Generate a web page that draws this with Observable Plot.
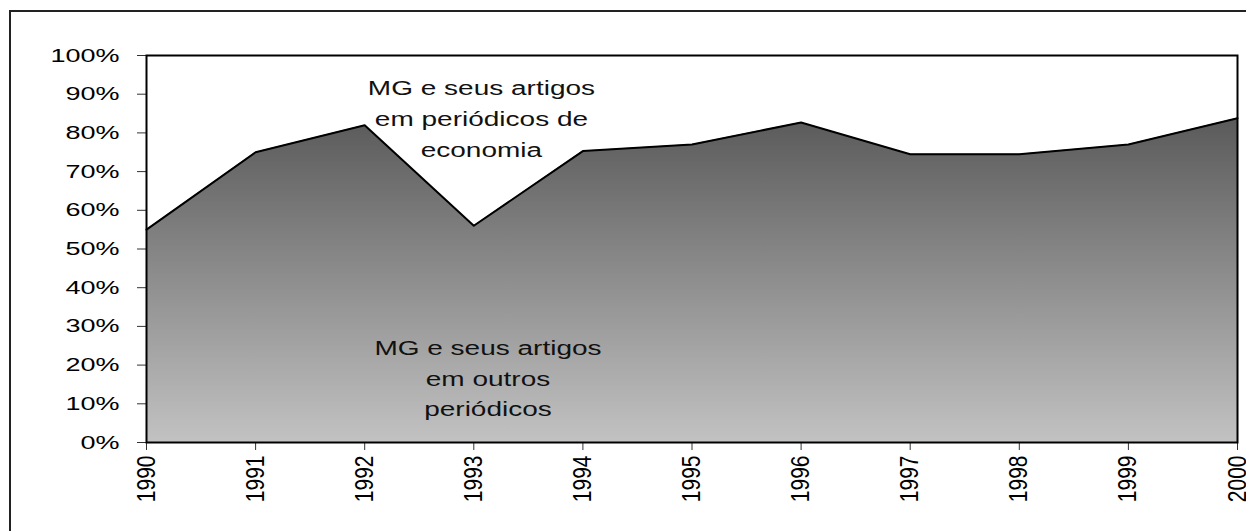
<!DOCTYPE html>
<html>
<head>
<meta charset="utf-8">
<script src="https://cdn.jsdelivr.net/npm/d3@7"></script>
<script src="https://cdn.jsdelivr.net/npm/@observablehq/plot@0.6"></script>
<style>
  html, body { margin: 0; padding: 0; background: #fff; overflow: hidden; }
  #wrap { position: relative; width: 1246px; height: 531px; }
  #border { position: absolute; left: 9px; top: 10px; width: 1260px; height: 600px; border: 2px solid #222; box-sizing: border-box; pointer-events: none; }
  #chart { position: absolute; left: 0; top: 0; }
</style>
</head>
<body>
<div id="wrap"><div id="chart"></div><div id="border"></div></div>
<script>
const years = [1990, 1991, 1992, 1993, 1994, 1995, 1996, 1997, 1998, 1999, 2000];
const shareEconomia = [0.55, 0.75, 0.82, 0.56, 0.753, 0.77, 0.827, 0.745, 0.745, 0.77, 0.838];

const labelTexts = ["MG e seus artigos\nem periódicos de\neconomia", "MG e seus artigos\nem outros\nperiódicos"];
const labelYears = [1993.07, 1993.13];
const labelValues = [0.843, 0.172];

const data = years.map((y, i) => ({year: y, value: shareEconomia[i]}));
const labels = labelTexts.map((t, i) => ({text: t, year: labelYears[i], value: labelValues[i]}));

const font = "Liberation Sans, Arial, sans-serif";

const chart = Plot.plot({
  width: 1246,
  height: 531,
  marginLeft: 146,
  marginRight: 9,
  marginTop: 55,
  marginBottom: 89,
  style: {fontFamily: font, fontSize: "20px", color: "#000", background: "transparent", overflow: "visible"},
  x: {domain: [1990, 2000], ticks: years, tickFormat: d3.format("d")},
  y: {domain: [0, 1], ticks: d3.range(0, 1.01, 0.1), tickFormat: d3.format(".0%")},
  marks: [
    Plot.areaY(data, {x: "year", y: "value", fill: "url(#areaGrad)"}),
    Plot.lineY(data, {x: "year", y: "value", stroke: "#000", strokeWidth: 2}),
    Plot.text(labels, {x: "year", y: "value", text: "text", lineHeight: 1.53, lineAnchor: "middle", textAnchor: "middle", fontSize: 20, fill: "#111", className: "annot"}),
    Plot.axisY({ticks: d3.range(0, 1.01, 0.1), tickFormat: d3.format(".0%"), tickSize: 9, tickPadding: 18, stroke: "#333", fill: "#000", label: null, className: "yax"}),
    Plot.axisX({ticks: years, tickFormat: d3.format("d"), tickSize: 8, tickPadding: 5, tickRotate: -90, stroke: "#333", fill: "#000", label: null, className: "xax"}),
    Plot.frame({stroke: "#000", strokeWidth: 2})
  ]
});

const svg = d3.select(chart);
const defs = svg.insert("defs", ":first-child");
const grad = defs.append("linearGradient").attr("id", "areaGrad").attr("x1", 0).attr("y1", 0).attr("x2", 0).attr("y2", 1);
grad.append("stop").attr("offset", "0%").attr("stop-color", "#5a5a5a");
grad.append("stop").attr("offset", "100%").attr("stop-color", "#c2c2c2");

// explicit font sizes for axis labels
svg.selectAll("g.yax").attr("font-size", 19).style("font-size", "19px");
svg.selectAll("g.yax text").attr("font-size", 19).style("font-size", "19px");
svg.selectAll("g.xax").attr("font-size", 21).style("font-size", "21px");
svg.selectAll("g.xax text").attr("font-size", 21).style("font-size", "21px");

// horizontally stretched lettering, as in the reference
svg.selectAll("g.annot text, g.yax text").each(function() {
  const t = this.getAttribute("transform") || "";
  const sx = this.closest("g.yax") ? 1.42 : 1.4;
  this.setAttribute("transform", t + ` scale(${sx},1)`);
});
svg.selectAll("g.xax text").each(function() {
  const t = this.getAttribute("transform") || "";
  this.setAttribute("transform", t + ` scale(1,1.2)`);
});

document.getElementById("chart").appendChild(chart);
</script>
</body>
</html>
